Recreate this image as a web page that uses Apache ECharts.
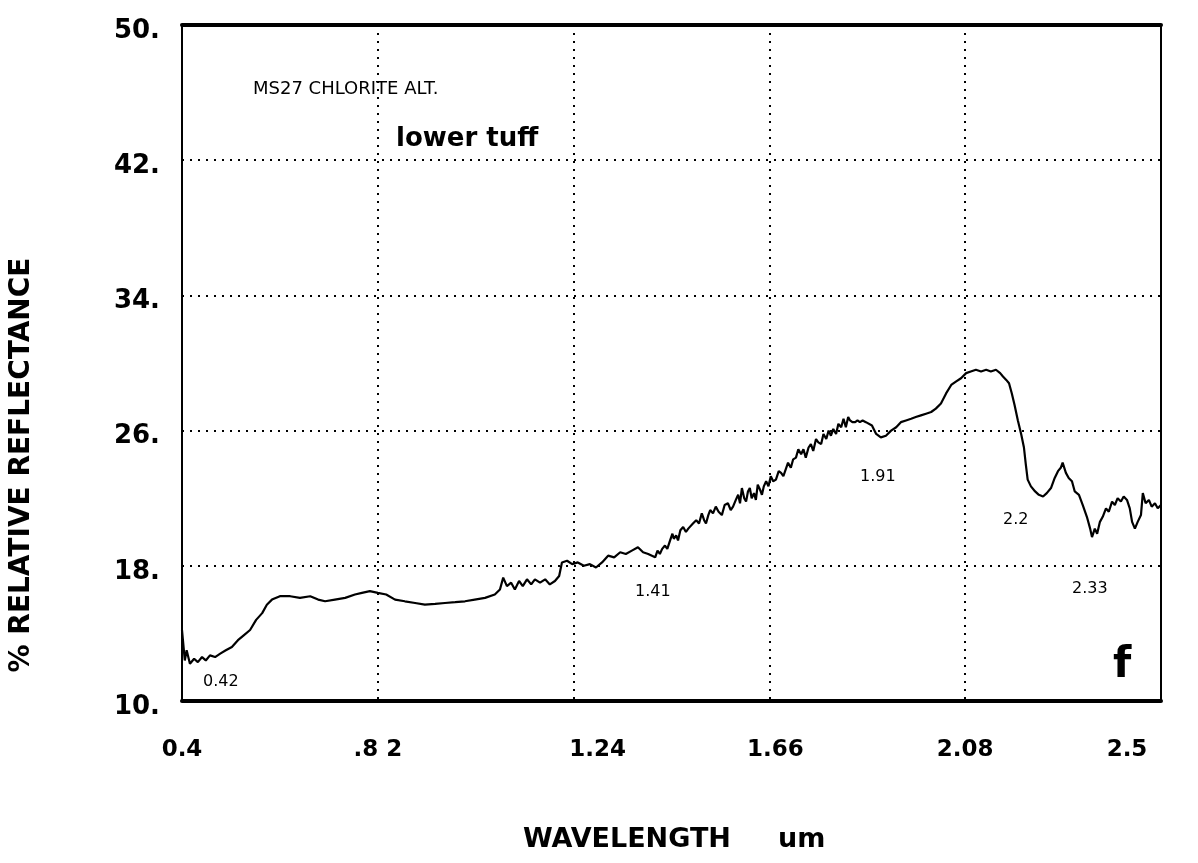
<!DOCTYPE html>
<html>
<head>
<meta charset="utf-8">
<script src="https://cdn.jsdelivr.net/npm/echarts@6/dist/echarts.min.js"></script>
<style>
html,body{margin:0;padding:0;background:#fff;}
#chart{width:1198px;height:863px;}
</style>
</head>
<body>
<div id="chart"></div>
<script>
// Wavelength (um)
const wavelength = [
0.400,0.402,0.406,0.410,0.417,0.426,0.434,0.443,0.451,0.460,0.471,0.482,0.494,0.507,0.520,0.533,0.546,0.559,0.572,0.582,
0.593,0.610,0.632,0.653,0.675,0.692,0.707,0.728,0.750,0.771,0.786,0.803,0.820,0.838,0.857,0.878,0.900,0.921,0.943,0.964,
0.986,1.007,1.028,1.050,1.071,1.082,1.089,1.097,1.106,1.114,1.123,1.131,1.140,1.149,1.157,1.168,1.179,1.189,1.200,1.209,
1.215,1.226,1.237,1.249,1.262,1.275,1.288,1.301,1.314,1.327,1.340,1.352,1.365,1.378,1.389,1.400,
1.415,1.420,1.425,1.430,1.436,1.441,1.447,1.452,1.455,1.460,
1.464,1.469,1.475,1.481,1.486,1.490,1.496,1.503,1.509,1.515,
1.520,1.524,1.529,1.533,1.539,1.545,1.551,1.558,1.564,1.571,
1.577,1.582,1.588,1.593,1.597,1.601,1.606,1.610,1.614,1.618,
1.622,1.627,1.631,1.635,1.640,1.644,1.648,1.653,1.658,1.663,
1.668,1.674,1.680,1.685,1.690,1.695,1.700,1.706,1.711,1.717,
1.722,1.728,1.733,1.738,1.744,1.749,1.754,1.760,1.765,1.771,
1.776,1.782,1.787,1.792,1.797,1.803,1.808,1.814,1.819,1.824,
1.829,1.833,1.838,1.844,1.849,1.854,1.860,1.867,
1.880,1.889,1.899,1.910,1.921,1.932,1.942,1.953,1.964,1.974,1.985,1.996,2.007,2.017,2.028,2.039,2.050,2.060,2.071,2.082,
2.092,2.103,2.114,2.125,2.135,2.146,2.155,2.161,2.168,2.174,2.180,2.186,2.193,2.200,2.206,2.210,2.214,2.221,2.230,2.238,
2.247,2.255,2.264,2.272,2.279,2.285,2.289,2.296,2.302,2.309,2.315,2.324,2.332,2.341,2.348,2.352,2.358,2.363,2.369,2.375,
2.382,2.388,2.395,2.401,2.407,2.414,2.420,2.427,2.433,2.438,2.444,2.450,2.457,2.461,2.467,2.474,2.480,2.487,2.493,2.500
];
// % relative reflectance
const reflectance = [
14.2,13.6,12.4,13.0,12.2,12.5,12.3,12.6,12.4,12.7,12.6,12.8,13.0,13.2,13.6,13.9,14.2,14.8,15.2,15.7,
16.0,16.2,16.2,16.1,16.2,16.0,15.9,16.0,16.1,16.3,16.4,16.5,16.4,16.3,16.0,15.9,15.8,15.7,15.75,15.8,
15.85,15.9,16.0,16.1,16.3,16.6,17.3,16.8,17.0,16.6,17.1,16.8,17.2,16.9,17.2,17.0,17.2,16.9,17.1,17.4,
18.2,18.3,18.1,18.2,18.0,18.1,17.9,18.2,18.6,18.5,18.8,18.7,18.9,19.1,18.8,18.7,
18.5,18.9,18.7,19.0,19.2,19.0,19.5,19.9,19.6,19.8,
19.5,20.1,20.3,20.0,20.2,20.1,20.5,20.7,20.5,21.1,
20.7,20.5,21.0,21.3,21.1,21.5,21.2,21.0,21.6,21.7,
21.3,21.5,21.9,22.2,21.7,22.6,22.0,21.8,22.4,22.6,
22.0,22.3,21.9,22.8,22.5,22.2,22.7,23.0,22.7,23.3,
23.0,23.1,23.6,23.5,23.3,23.7,24.1,23.8,24.3,24.4,
24.9,24.6,24.9,24.4,25.0,25.2,24.8,25.5,25.3,25.2,
25.8,25.5,26.0,25.7,26.1,25.8,26.4,26.2,26.7,26.2,
26.8,26.6,26.5,26.5,26.6,26.5,26.6,26.5,
26.3,25.8,25.6,25.7,26.0,26.2,26.5,26.6,26.7,26.8,26.9,27.0,27.1,27.3,27.6,28.2,28.7,28.9,29.1,29.4,
29.5,29.6,29.5,29.6,29.5,29.6,29.4,29.2,29.0,28.8,28.2,27.5,26.6,25.8,25.0,24.0,23.1,22.7,22.4,22.2,
22.1,22.3,22.6,23.2,23.6,23.8,24.1,23.5,23.2,23.0,22.4,22.2,21.6,20.9,20.2,19.7,20.2,19.9,20.6,20.9,
21.4,21.2,21.8,21.6,22.0,21.8,22.1,21.9,21.4,20.6,20.2,20.6,21.0,22.3,21.7,21.9,21.5,21.7,21.4,21.6
];
const xTicks = [0.4, 0.82, 1.24, 1.66, 2.08, 2.5];
const xTickLabels = ['0.4', '.8 2', '1.24', '1.66', '2.08', '2.5'];
const yTicks = [10, 18, 26, 34, 42, 50];
const yTickLabels = ['10.', '18.', '26.', '34.', '42.', '50.'];
const bandLabels = ['0.42', '1.41', '1.91', '2.2', '2.33'];

const FONT = 'DejaVu Sans';
const chart = echarts.init(document.getElementById('chart'), null, {renderer: 'canvas'});
const seriesData = wavelength.map((w, i) => [w, reflectance[i]]);
const xRich = {
  n: {fontFamily: FONT, fontWeight: 'bold', fontSize: 23, color: '#000'},
  r1: {fontFamily: FONT, fontWeight: 'bold', fontSize: 23, color: '#000', padding: [0, 0, 0, 48]},
  r2: {fontFamily: FONT, fontWeight: 'bold', fontSize: 23, color: '#000', padding: [0, 0, 0, 12]},
  l1: {fontFamily: FONT, fontWeight: 'bold', fontSize: 23, color: '#000', padding: [0, 68, 0, 0]}
};
const yRich = {
  y: {fontFamily: FONT, fontWeight: 'bold', fontSize: 26, color: '#000', padding: [12, 0, 0, 0]}
};
function xLabel(v) {
  let idx = xTicks.findIndex(t => Math.abs(t - v) < 1e-6);
  if (idx < 0) return '';
  const txt = xTickLabels[idx];
  const style = idx === 2 ? 'r1' : idx === 3 ? 'r2' : idx === 5 ? 'l1' : 'n';
  return '{' + style + '|' + txt + '}';
}
function yLabel(v) {
  let idx = yTicks.findIndex(t => Math.abs(t - v) < 1e-6);
  return idx < 0 ? '' : '{y|' + yTickLabels[idx] + '}';
}
const dotted = {color: '#000', width: 2, type: [2, 6]};
const bandStyle = {fontFamily: FONT, fontSize: 16, fill: '#000'};

chart.setOption({
  animation: false,
  backgroundColor: '#fff',
  grid: {left: 182, right: 37, top: 25, bottom: 162, show: true, borderColor: '#000', borderWidth: 2, backgroundColor: 'transparent'},
  xAxis: [{
    type: 'value', min: 0.4, max: 2.5, position: 'bottom',
    axisLine: {show: true, onZero: false, lineStyle: {color: '#000', width: 4}},
    axisTick: {show: false, customValues: xTicks},
    axisLabel: {customValues: xTicks, formatter: xLabel, rich: xRich, margin: 38, hideOverlap: false,
      fontFamily: FONT, fontWeight: 'bold', fontSize: 23, color: '#000'},
    splitLine: {show: true, lineStyle: dotted}
  }, {
    type: 'value', min: 0.4, max: 2.5, position: 'top',
    axisLine: {show: true, onZero: false, lineStyle: {color: '#000', width: 4}},
    axisTick: {show: false}, axisLabel: {show: false}, splitLine: {show: false}
  }],
  yAxis: {
    type: 'value', min: 10, max: 50,
    axisLine: {show: true, onZero: false, lineStyle: {color: '#000', width: 2}},
    axisTick: {show: false, customValues: yTicks},
    axisLabel: {customValues: yTicks, formatter: yLabel, rich: yRich, margin: 22,
      fontFamily: FONT, fontWeight: 'bold', fontSize: 26, color: '#000'},
    splitLine: {show: true, lineStyle: dotted}
  },
  series: [{
    type: 'line', xAxisIndex: 0, data: seriesData, showSymbol: false, symbol: 'none',
    lineStyle: {color: '#000', width: 2.2}, z: 5
  }],
  graphic: [
    {type: 'text', x: 22, y: 465, rotation: Math.PI / 2,
      style: {text: '% RELATIVE REFLECTANCE', fontFamily: FONT, fontWeight: 'bold', fontSize: 28, fill: '#000',
        textAlign: 'center', textVerticalAlign: 'middle'}},
    {type: 'text', left: 523, top: 826,
      style: {text: 'WAVELENGTH     um', fontFamily: FONT, fontWeight: 'bold', fontSize: 27, fill: '#000'}},
    {type: 'text', left: 253, top: 80,
      style: {text: 'MS27 CHLORITE ALT.', fontFamily: FONT, fontSize: 18, fill: '#000'}},
    {type: 'text', left: 396, top: 126,
      style: {text: 'lower tuff', fontFamily: FONT, fontWeight: 'bold', fontSize: 26, fill: '#000'}},
    {type: 'text', left: 203, top: 674, style: Object.assign({text: bandLabels[0]}, bandStyle)},
    {type: 'text', left: 635, top: 584, style: Object.assign({text: bandLabels[1]}, bandStyle)},
    {type: 'text', left: 860, top: 469, style: Object.assign({text: bandLabels[2]}, bandStyle)},
    {type: 'text', left: 1003, top: 512, style: Object.assign({text: bandLabels[3]}, bandStyle)},
    {type: 'text', left: 1072, top: 581, style: Object.assign({text: bandLabels[4]}, bandStyle)},
    {type: 'text', left: 1113, top: 645,
      style: {text: 'f', fontFamily: FONT, fontWeight: 'bold', fontSize: 42, fill: '#000'}}
  ]
});
</script>
</body>
</html>
